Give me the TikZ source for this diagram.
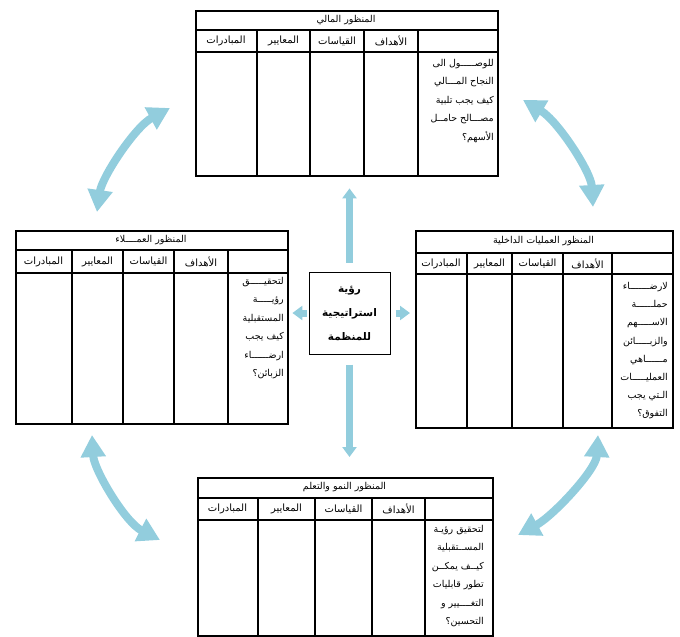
\documentclass[tikz,border=0pt]{standalone}
\usepackage{fontspec}
\usepackage{tikz}
\usetikzlibrary{arrows.meta, positioning, calc}
\newfontfamily\arabicfont[Script=Arabic]{DejaVu Sans}
\TeXXeTstate=1
\newcommand{\ar}[1]{\beginR #1\endR}
\definecolor{aqua}{RGB}{146,205,221}

\begin{document}
\begin{tikzpicture}[x=1pt, y=-1pt,
  box/.style={draw, line width=2.4pt, inner sep=0pt},
  grid/.style={line width=2.4pt},
  title/.style={font=\arabicfont\fontsize{9.5}{11}\selectfont},
  head/.style={font=\arabicfont\fontsize{10}{12}\selectfont},
  txt/.style={anchor=north east, align=right, inner sep=0pt, font=\arabicfont\fontsize{9.5}{18.5}\selectfont},
  fat/.style={aqua, line width=7pt, -{Triangle[width=14pt,length=10pt]}},
  curl/.style={aqua, line width=8pt, {Triangle[width=24pt,length=22pt]}-{Triangle[width=24pt,length=22pt]}}]
\useasboundingbox (0,0) rectangle (680,637);

% financial perspective
\node[box, anchor=north west, minimum width=302pt, minimum height=165pt] (fin) at (195,10) {};
\draw[grid] (195,30) -- (497,30) (195,52) -- (497,52);
\foreach \x in {257,310,364,418} \draw[grid] (\x,30) -- (\x,175);
\node[title] (fin-t) at (346,20) {\ar{المنظور المالي}};
\foreach \t/\x [count=\i] in {المبادرات/226,المعايير/283.5,القياسات/337,الأهداف/391}
  \node[head] (fin-\i) at (\x,41) {\ar{\t}};
\node[txt] (fin-q) at (494,59) {\ar{للوصـــــول الى}\\\ar{النجاح المـــالي}\\\ar{كيف يجب تلبية}\\\ar{مصـــالح حامــل}\\\ar{الأسهم؟}};

% customer perspective
\node[box, anchor=north west, minimum width=272pt, minimum height=193pt] (cust) at (15,230) {};
\draw[grid] (15,250) -- (287,250) (15,273) -- (287,273);
\foreach \x in {72,123,174,228} \draw[grid] (\x,250) -- (\x,423);
\node[title] (cust-t) at (151,240) {\ar{المنظور العمــــلاء}};
\foreach \t/\x [count=\i] in {المبادرات/43.5,المعايير/97.5,القياسات/148.5,الأهداف/201}
  \node[head] (cust-\i) at (\x,261.5) {\ar{\t}};
\node[txt] (cust-q) at (284,277) {\ar{لتحقيـــــق}\\\ar{رؤيـــــة}\\\ar{المستقبلية}\\\ar{كيف يجب}\\\ar{ارضــــــاء}\\\ar{الزبائن؟}};

% internal process perspective
\node[box, anchor=north west, minimum width=257pt, minimum height=197pt] (proc) at (415,230) {};
\draw[grid] (415,253) -- (672,253) (415,274) -- (672,274);
\foreach \x in {467,512,563,612} \draw[grid] (\x,253) -- (\x,427);
\node[title] (proc-t) at (543.5,241.5) {\ar{المنظور العمليات الداخلية}};
\foreach \t/\x [count=\i] in {المبادرات/441,المعايير/489.5,القياسات/537.5,الأهداف/587.5}
  \node[head] (proc-\i) at (\x,263.5) {\ar{\t}};
\node[txt, font=\arabicfont\fontsize{9.5}{18.2}\selectfont] (proc-q) at (668,282) {\ar{لارضـــــــاء}\\\ar{حملــــــة}\\\ar{الاســـــهم}\\\ar{والزبـــــائن}\\\ar{مــــــاهي}\\\ar{العمليـــــات}\\\ar{الـتي يجب}\\\ar{التفوق؟}};

% learning and growth perspective
\node[box, anchor=north west, minimum width=295pt, minimum height=158pt] (learn) at (197,477) {};
\draw[grid] (197,498) -- (492,498) (197,520) -- (492,520);
\foreach \x in {258,315,372,425} \draw[grid] (\x,498) -- (\x,635);
\node[title] (learn-t) at (344.5,487.5) {\ar{المنظور النمو والتعلم}};
\foreach \t/\x [count=\i] in {المبادرات/227.5,المعايير/286.5,القياسات/343.5,الأهداف/398.5}
  \node[head] (learn-\i) at (\x,509) {\ar{\t}};
\node[txt] (learn-q) at (484,525) {\ar{لتحقيق رؤيـة}\\\ar{المســتقبلية}\\\ar{كيــف يمكــن}\\\ar{تطور قابليات}\\\ar{التغــــيير و}\\\ar{التحسين؟}};

% strategic vision
\node[draw, line width=1pt, minimum width=81pt, minimum height=82pt, align=center,
  font=\arabicfont\bfseries\fontsize{10.5}{24}\selectfont] (vision) at (349.5,313) {\ar{رؤية}\\\ar{استراتيجية}\\\ar{للمنظمة}};

% arrows out of the vision
\draw[fat, shorten <=9pt, shorten >=11pt] (vision.north) -- (vision.north |- fin.south);
\draw[fat, shorten <=10pt, shorten >=20pt] (vision.south) -- (vision.south |- learn.north);
\draw[fat, shorten <=2pt, shorten >=3pt] (vision.west) -- (vision.west -| cust.east);
\draw[fat, shorten <=5pt, shorten >=5pt] (vision.east) -- (vision.east -| proc.west);

% curved arrows between the perspectives
\coordinate (tl-a) at (97,212);  \coordinate (tl-b) at (170,108);
\coordinate (tr-a) at (523,100); \coordinate (tr-b) at (593,207);
\coordinate (bl-a) at (92,435);  \coordinate (bl-b) at (160,540);
\coordinate (br-a) at (598,435); \coordinate (br-b) at (518,535);
\draw[curl] (tl-a) .. controls (102,177) and (135,127) .. (tl-b);
\draw[curl] (tr-a) .. controls (558,121) and (591,172) .. (tr-b);
\draw[curl] (bl-a) .. controls (94,470) and (125,522) .. (bl-b);
\draw[curl] (br-a) .. controls (596,470) and (553,516) .. (br-b);
\end{tikzpicture}
\end{document}
